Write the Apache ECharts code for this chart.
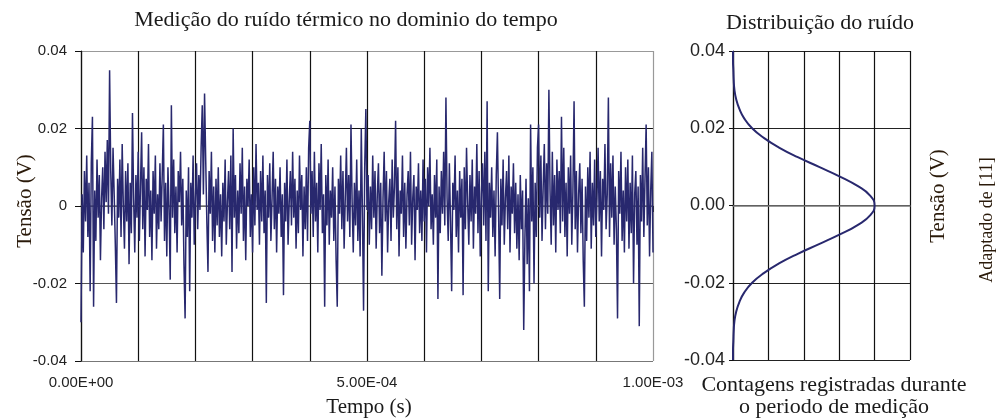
<!DOCTYPE html>
<html>
<head>
<meta charset="utf-8">
<script src="https://cdn.jsdelivr.net/npm/echarts@6/dist/echarts.min.js"></script>
<style>
html,body{margin:0;padding:0;background:#fff;}
#chart{width:998px;height:419px;}
</style>
</head>
<body>
<div id="chart"></div>
<script>
// ---- data ----
const timeStepUs = 2; // sampling interval (µs)
const noiseMv = [
-30,3,-12,9,-4,13,-8,6,-22,11,23,-26,4,-9,12,-3,8,-14,2,10,
-6,14,1,17,-2,35,9,-5,15,3,-10,-25,7,-3,12,-8,16,0,-11,9,
-4,11,-15,6,-7,24,2,-12,8,-3,14,-9,5,19,-6,10,-13,7,-1,16,
-8,4,-14,9,-2,13,-11,3,-6,11,-4,8,21,-9,6,-13,10,-1,-19,26,
-3,12,-7,5,-12,9,1,14,-5,7,-15,-29,4,-8,10,-22,6,-3,13,-10,
2,11,-6,8,-1,15,26,3,29,12,-4,-17,9,-2,14,-9,5,-12,7,-5,
10,-8,3,-13,6,-4,12,-10,1,9,-6,13,-17,20,-3,8,-11,4,-7,11,
-2,15,-9,5,-14,7,0,12,-8,3,-12,10,-5,16,-1,6,-10,9,-4,13,
-7,4,-25,8,-3,11,-9,2,14,-6,7,-12,5,-2,10,-8,3,-23,6,-4,
12,-10,1,9,-5,14,-3,7,-11,4,-7,13,-1,8,-13,5,-6,10,-9,15,
22,-2,9,-8,14,-4,6,-12,11,-1,16,-7,3,-26,8,-5,12,-10,4,-3,
10,-9,5,-14,-26,7,-2,13,-6,9,-11,2,15,-4,8,-8,21,1,-12,6,
-5,12,-9,4,-13,20,-2,-27,10,25,-1,8,-10,5,-6,13,-3,9,-11,3,
11,-7,6,-18,2,14,-4,9,-12,1,7,-9,12,-3,5,22,-6,10,-13,4,
-2,13,-8,6,-11,3,9,-5,14,-10,2,8,-14,5,-1,11,-7,4,-9,12,
-4,7,-12,10,0,15,-6,3,-10,8,-3,12,-24,5,-7,9,-2,14,-5,28,
2,-9,11,-4,-22,6,-1,13,-8,4,-12,9,-3,7,-23,10,-6,15,1,-10,
8,-4,12,-11,5,-2,16,-7,9,-13,3,11,-5,14,-9,27,-22,6,-3,10,
-8,4,-13,8,19,-1,-24,7,-5,12,-10,2,9,-6,13,-12,5,-2,11,-7,
6,-11,3,-14,8,-6,4,-32,-9,7,-15,2,-22,21,-4,10,-20,6,-8,15,
21,-3,13,-9,5,16,-6,11,-2,30,4,-10,14,-5,8,-12,12,-1,9,-7,
23,-4,15,-8,6,-13,10,-2,13,-10,4,27,-6,9,-12,3,11,-7,7,-14,
-26,5,-9,10,-3,14,-11,6,-5,12,-8,2,15,-4,9,-13,7,-1,16,-6,
3,28,-8,11,-3,13,-10,5,-6,-29,9,-2,14,-9,4,-12,10,-4,12,-11,
6,-7,13,-20,3,9,-10,5,-31,8,-4,15,-8,7,21,-5,10,-13,4,14,
-12
];
const timeTickLabelsUs = [0, 500, 1000];
const distVoltage = [-0.04,-0.0375,-0.035,-0.0325,-0.03,-0.0275,-0.025,-0.0225,-0.02,-0.0175,-0.015,-0.0125,-0.01,-0.0075,-0.005,-0.0025,0,
  0.0025,0.005,0.0075,0.01,0.0125,0.015,0.0175,0.02,0.0225,0.025,0.0275,0.03,0.0325,0.035,0.0375,0.04];
const distCounts = [0,0,0.01,0.02,0.04,0.09,0.18,0.32,0.54,0.87,1.30,1.83,2.43,3.02,3.53,3.88,4.0,
  3.88,3.53,3.02,2.43,1.83,1.30,0.87,0.54,0.32,0.18,0.09,0.04,0.02,0.01,0,0];

// ---- chart ----
const chart = echarts.init(document.getElementById('chart'), null, {renderer:'canvas'});
const serif = 'Liberation Serif';
const sans = 'Liberation Sans';
const textCol = '#1a1a1a';

function sci(us){
  const s = us * 1e-6;
  const parts = s.toExponential(2).split('e');
  let e = parseInt(parts[1], 10);
  const sign = e < 0 ? '-' : '+';
  e = Math.abs(e);
  return parts[0] + 'E' + sign + (e < 10 ? '0' + e : '' + e);
}

const option = {
  backgroundColor: '#fff',
  animation: false,
  grid: [
    {left: 81, top: 51, width: 572, height: 310},
    {left: 733, top: 51, width: 177, height: 309}
  ],
  xAxis: [
    {
      type: 'value', gridIndex: 0, min: 0, max: 1000, interval: 100,
      axisLine: {show: true, lineStyle: {color: '#777', width: 1.5}},
      axisTick: {show: true, customValues: timeTickLabelsUs, length: 6, lineStyle: {color: '#333'}},
      axisLabel: {customValues: timeTickLabelsUs, formatter: sci, fontFamily: sans, fontSize: 15, color: '#222', margin: 14},
      splitLine: {show: false}
    },
    {
      type: 'value', gridIndex: 1, min: 0, max: 5, interval: 1,
      axisLine: {show: true, lineStyle: {color: '#777', width: 1.5}},
      axisTick: {show: false},
      axisLabel: {show: false},
      splitLine: {show: true, lineStyle: {color: '#111', width: 1.2}}
    },
    {
      type: 'value', gridIndex: 0, min: 0, max: 1000, interval: 100, position: 'top',
      axisLine: {show: false}, axisTick: {show: false}, axisLabel: {show: false},
      splitLine: {show: true, lineStyle: {color: ['#111','#111','#111','#111','#111','#111','#111','#111','#111','#111','#999'], width: 1.2}}
    }
  ],
  yAxis: [
    {
      type: 'value', gridIndex: 0, min: -0.04, max: 0.04, interval: 0.02,
      axisLine: {show: true, lineStyle: {color: '#111', width: 1.2}},
      axisTick: {show: true, length: 6, lineStyle: {color: '#111'}},
      axisLabel: {formatter: v => Math.abs(v) < 1e-9 ? '0' : v.toFixed(2), fontFamily: sans, fontSize: 15, color: '#222', margin: 14},
      splitLine: {show: true, lineStyle: {color: ['#777','#555','#444','#111','#999'], width: 1.2}}
    },
    {
      type: 'value', gridIndex: 1, min: -0.04, max: 0.04, interval: 0.02,
      axisLine: {show: true, lineStyle: {color: '#111', width: 1.2}},
      axisTick: {show: true, length: 4, lineStyle: {color: '#111'}},
      axisLabel: {formatter: v => v.toFixed(2), fontFamily: sans, fontSize: 18, color: '#222', margin: 8},
      splitLine: {show: true, lineStyle: {color: '#222', width: 1.2}}
    }
  ],
  series: [
    {
      type: 'line', xAxisIndex: 0, yAxisIndex: 0, showSymbol: false, symbol: 'none',
      data: noiseMv.map((v, i) => [i * timeStepUs, v / 1000]),
      lineStyle: {color: '#28286e', width: 1.5}
    },
    {
      type: 'line', xAxisIndex: 1, yAxisIndex: 1, showSymbol: false, symbol: 'none', smooth: true,
      data: distVoltage.map((v, i) => [distCounts[i], v]),
      lineStyle: {color: '#28286e', width: 2}
    }
  ],
  graphic: [
    {type: 'text', x: 346, y: 20, style: {text: 'Medição do ruído térmico no dominio do tempo', font: '22px "' + serif + '"', fill: textCol, align: 'center', verticalAlign: 'middle'}},
    {type: 'text', x: 820, y: 23, style: {text: 'Distribuição do ruído', font: '22px "' + serif + '"', fill: textCol, align: 'center', verticalAlign: 'middle'}},
    {type: 'text', x: 25, y: 201, rotation: Math.PI / 2, style: {text: 'Tensão (V)', font: '21px "' + serif + '"', fill: '#2a1a0a', align: 'center', verticalAlign: 'middle'}},
    {type: 'text', x: 369, y: 407, style: {text: 'Tempo (s)', font: '21px "' + serif + '"', fill: textCol, align: 'center', verticalAlign: 'middle'}},
    {type: 'text', x: 834, y: 385, style: {text: 'Contagens registradas durante', font: '22px "' + serif + '"', fill: textCol, align: 'center', verticalAlign: 'middle'}},
    {type: 'text', x: 834, y: 407, style: {text: 'o periodo de medição', font: '22px "' + serif + '"', fill: textCol, align: 'center', verticalAlign: 'middle'}},
    {type: 'text', x: 938, y: 196, rotation: Math.PI / 2, style: {text: 'Tensão (V)', font: '21px "' + serif + '"', fill: '#2a1a0a', align: 'center', verticalAlign: 'middle'}},
    {type: 'text', x: 987, y: 220, rotation: Math.PI / 2, style: {text: 'Adaptado de [11]', font: '18px "' + serif + '"', fill: '#2a1a0a', align: 'center', verticalAlign: 'middle'}}
  ]
};
chart.setOption(option);
</script>
</body>
</html>
